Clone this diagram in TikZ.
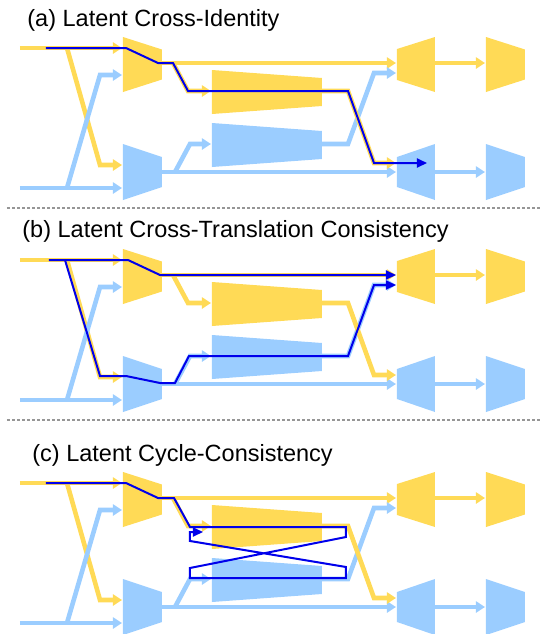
\documentclass[tikz,border=0pt]{standalone}
\usepackage{fontspec}
\setmainfont{Liberation Sans}
\usetikzlibrary{arrows.meta}
\definecolor{amarillo}{RGB}{255,218,86}
\definecolor{celeste}{RGB}{155,205,255}
\definecolor{azul}{RGB}{0,0,235}
\definecolor{puntos}{RGB}{150,150,150}

% trapecio: color, x izq, x der, y centro, semialto izq, semialto der
\newcommand{\trap}[6]{\fill[#1] (#2,#4-#5) -- (#3,#4-#6) -- (#3,#4+#6) -- (#2,#4+#5) -- cycle;}

\tikzset{
  lineaA/.style={amarillo, line width=2.3pt, -{Triangle[length=4.5pt,width=5.5pt]}},
  lineaC/.style={celeste, line width=2.3pt, -{Triangle[length=4.5pt,width=5.5pt]}},
  ruta/.style={azul, line width=1pt, -{Triangle[length=5pt,width=4.5pt]}},
  titulo/.style={anchor=base west, inner sep=0pt, font=\fontsize{11.75}{13}\selectfont},
  separador/.style={puntos, line width=1pt, dash pattern=on 1.25pt off 1.25pt}
}

% red base de un panel
\newcommand{\red}{%
  % bloques
  \trap{amarillo}{123}{162}{64.5}{27.5}{15}
  \trap{celeste}{123}{162}{172}{28}{15}
  \trap{amarillo}{212}{322}{92}{22}{14}
  \trap{celeste}{212}{322}{145}{22}{14}
  \trap{amarillo}{397}{435}{64.5}{15.5}{27.5}
  \trap{celeste}{397}{435}{172}{15}{28}
  \trap{amarillo}{486}{525}{64.5}{27.5}{15}
  \trap{celeste}{486}{525}{172}{28}{15}
  % puertos
  \coordinate (inA) at (20,48);
  \coordinate (inC) at (20,188);
  \coordinate (encA1) at (122,48);
  \coordinate (encA2) at (122,75);
  \coordinate (encC1) at (122,165);
  \coordinate (encC2) at (122,188);
  \coordinate (zA) at (162,63);
  \coordinate (zC) at (162,172);
  \coordinate (midAin) at (211,91);
  \coordinate (midCin) at (211,144);
  \coordinate (midAout) at (322,91);
  \coordinate (midCout) at (322,144);
  \coordinate (decA1) at (396,63);
  \coordinate (decA2) at (396,73);
  \coordinate (decC1) at (396,163);
  \coordinate (decC2) at (396,172);
  \coordinate (decAout) at (435,63);
  \coordinate (decCout) at (435,172);
  \coordinate (outA) at (485,63);
  \coordinate (outC) at (485,172);
  % lineas
  \draw[lineaA] (inA) -- (encA1);
  \draw[lineaA] (67,48) -- (100,165) -- (encC1);
  \draw[lineaC] (inC) -- (encC2);
  \draw[lineaC] (67,188) -- (100,75) -- (encA2);
  \draw[lineaA] (zA) -- (decA1);
  \draw[lineaA] (173,63) -- (188,91) -- (midAin);
  \draw[lineaC] (zC) -- (decC2);
  \draw[lineaC] (175,172) -- (190,144) -- (midCin);
  \draw[lineaC] (midCout) -- (348,144) -- (374,73) -- (decA2);
  \draw[lineaA] (midAout) -- (348,91) -- (374,163) -- (decC1);
  \draw[lineaA] (decAout) -- (outA);
  \draw[lineaC] (decCout) -- (outC);
}

\begin{document}
\begin{tikzpicture}[x=0.5pt, y=-0.5pt]
  \useasboundingbox (0,0) rectangle (540,634);

  % titulos
  \node[titulo] (tituloA) at (27,26) {(a) Latent Cross-Identity};
  \node[titulo] (tituloB) at (22,237) {(b) Latent Cross-Translation Consistency};
  \node[titulo] (tituloC) at (32,461) {(c) Latent Cycle-Consistency};

  % separadores
  \draw[separador] (7,208) -- (540,208);
  \draw[separador] (7,420) -- (540,420);

  % (a)
  \begin{scope}
    \red
    \coordinate (finA) at (427,163);
    \draw[ruta] (46,48) -- (126,48) -- (158,63) -- (173,63) -- (188,91)
      -- (348,91) -- (374,163) -- (finA);
  \end{scope}

  % (b)
  \begin{scope}[shift={(0,212)}]
    \red
    \draw[ruta] (49,48) -- (128,48) -- (160,63) -- (decA1);
    \draw[ruta] (65,48) -- (100,164) -- (126,164) -- (160,171) -- (175,171)
      -- (189,144) -- (348,144) -- (374,73) -- (decA2);
  \end{scope}

  % (c)
  \begin{scope}[shift={(0,435)}]
    \red
    \coordinate (finC) at (203,97);
    \draw[ruta] (46,48) -- (126,48) -- (158,63) -- (174,63) -- (190,92)
      -- (346,92) -- (346,102) -- (190,133) -- (190,143) -- (346,143)
      -- (346,132) -- (190,106) -- (190,97) -- (finC);
  \end{scope}
\end{tikzpicture}
\end{document}
